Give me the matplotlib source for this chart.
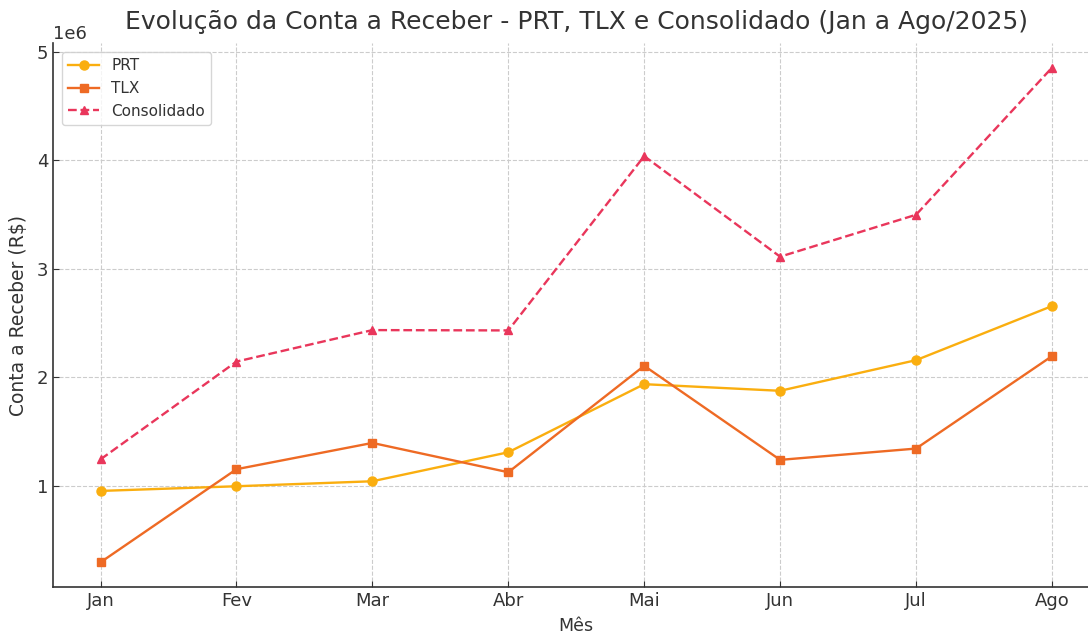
import matplotlib
matplotlib.use("Agg")
import matplotlib.pyplot as plt

meses = ["Jan", "Fev", "Mar", "Abr", "Mai", "Jun", "Jul", "Ago"]
prt = [954000, 997000, 1043000, 1310000, 1937000, 1876000, 2158000, 2656000]
tlx = [297000, 1154000, 1396000, 1126000, 2106000, 1240000, 1344000, 2195000]
consolidado = [1245000, 2145000, 2435000, 2432000, 4037000, 3111000, 3497000, 4851000]

txt = "#333333"
plt.rcParams['font.family'] = ['DejaVu Sans']
plt.rcParams['text.color'] = txt
plt.rcParams['axes.labelcolor'] = txt
plt.rcParams['xtick.color'] = txt
plt.rcParams['ytick.color'] = txt

fig = plt.figure(figsize=(10.88, 6.33), dpi=100)
ax = fig.add_axes([53/1088, 1-587/633, (1099.5-53)/1088, (587-43)/633])

x = list(range(len(meses)))
ax.plot(x, prt, color="#FAAE0F", marker="o", lw=1.7, ms=6.5, label="PRT")
ax.plot(x, tlx, color="#EE6A24", marker="s", lw=1.7, ms=6, label="TLX")
ax.plot(x, consolidado, color="#E9365B", marker="^", lw=1.7, ms=6, ls="--", label="Consolidado")

ax.set_xticks(x)
ax.set_xticklabels(meses)
ax.tick_params(direction="in", labelsize=13, length=4, color=txt)
ax.set_title("Evolução da Conta a Receber - PRT, TLX e Consolidado (Jan a Ago/2025)",
             fontsize=18, color=txt, pad=10)
ax.set_xlabel("Mês", fontsize=12.5, labelpad=5)
ax.set_ylabel("Conta a Receber (R$)", fontsize=13.5, labelpad=6)
ax.yaxis.get_offset_text().set_fontsize(13)
ax.grid(True, ls="--", color="#cccccc", lw=0.8)
for s in ["top", "right"]:
    ax.spines[s].set_visible(False)
for s in ["left", "bottom"]:
    ax.spines[s].set_color(txt)
    ax.spines[s].set_linewidth(1.2)
leg = ax.legend(loc="upper left", fontsize=11, frameon=True, borderaxespad=0.6)
leg.get_frame().set_edgecolor("#cccccc")
fig.savefig("out.png", dpi=100)
